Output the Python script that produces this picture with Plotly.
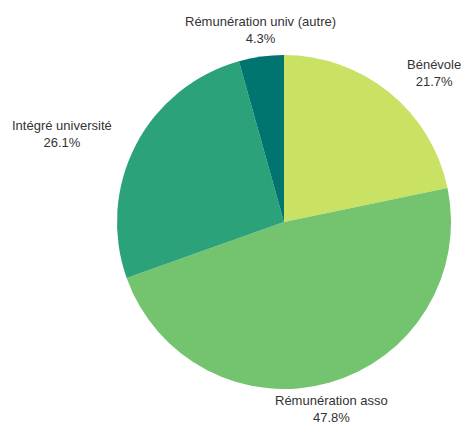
import math
import plotly.graph_objects as go

labels = ["Bénévole", "Rémunération asso", "Intégré université", "Rémunération univ (autre)"]
values = [5, 11, 6, 1]
colors = ["#c9e264", "#74c46f", "#2ca27b", "#00746f"]

W, H = 462, 426
ML, MR, MT, MB = 117, 11, 55, 37
PW = W - ML - MR
PH = H - MT - MB
R = min(PW, PH) / 2

fig = go.Figure(go.Pie(
    labels=labels,
    values=values,
    sort=False,
    direction="clockwise",
    rotation=0,
    marker=dict(colors=colors, line=dict(width=0)),
    textinfo="none",
    hoverinfo="label+percent",
    showlegend=False,
))

total = sum(values)
cum = 0
font = dict(family="Liberation Sans, Arial, sans-serif", size=13, color="#333333")
for lab, v in zip(labels, values):
    mid = (cum + v / 2) / total * 2 * math.pi
    cum += v
    s, c = math.sin(mid), math.cos(mid)
    if abs(s) > 0.5:
        d = R + 25
        xa = "left" if s > 0 else "right"
        ya = "middle"
    else:
        d = R + 9
        xa = "center"
        ya = "bottom" if c > 0 else "top"
    px = d * s
    py = d * c
    fig.add_annotation(
        x=0.5 + px / PW, y=0.5 + py / PH, xref="paper", yref="paper",
        text=f"{lab}<br>{v / total * 100:.1f}%",
        showarrow=False, xanchor=xa, yanchor=ya, font=font, align="center",
    )

fig.update_layout(
    width=W, height=H,
    margin=dict(l=ML, r=MR, t=MT, b=MB),
    paper_bgcolor="white",
    plot_bgcolor="white",
)
fig.write_html(
    "out.html",
    config={"displayModeBar": False},
    post_script="document.body.style.margin='0';document.body.style.overflow='hidden';",
)
